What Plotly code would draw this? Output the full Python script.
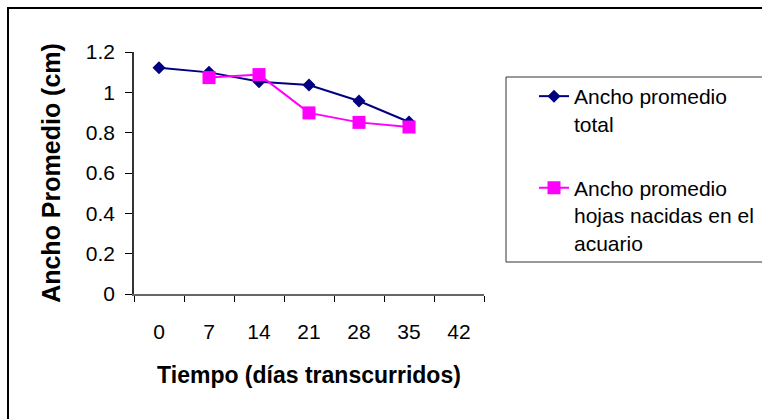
import plotly.graph_objects as go

# Sampling days (category axis) and mean leaf width per series
dias = ["0", "7", "14", "21", "28", "35", "42"]

dias_total = ["0", "7", "14", "21", "28", "35"]
ancho_total = [1.122, 1.099, 1.053, 1.036, 0.957, 0.853]

dias_acuario = ["7", "14", "21", "28", "35"]
ancho_acuario = [1.073, 1.088, 0.898, 0.851, 0.828]

y_ticks = [0, 0.2, 0.4, 0.6, 0.8, 1, 1.2]
y_ticktext = ["0", "0.2", "0.4", "0.6", "0.8", "1", "1.2"]

FONT = "Arial, 'Liberation Sans', sans-serif"
W, H = 762, 419
L, R, T, B = 134, 484, 52, 294  # plot area in pixels


def px(x):
    """Pixel column -> paper (plot-area) fraction."""
    return (x - L) / (R - L)


def py(y):
    """Pixel row -> paper (plot-area) fraction."""
    return (B - y) / (B - T)


fig = go.Figure()

fig.add_trace(go.Scatter(
    x=dias_total, y=ancho_total,
    mode="lines+markers",
    name="Ancho promedio<br>total",
    legendgroup="a",
    line=dict(color="#000080", width=2),
    marker=dict(symbol="diamond", size=10, color="#000080"),
))

fig.add_trace(go.Scatter(
    x=dias_acuario, y=ancho_acuario,
    mode="lines+markers",
    name="Ancho promedio<br>hojas nacidas en el<br>acuario",
    legendgroup="b",
    line=dict(color="#FF00FF", width=2),
    marker=dict(symbol="square", size=13, color="#FF00FF"),
))

# Outer chart frame and legend frame
fig.add_shape(type="rect", xref="paper", yref="paper",
              x0=px(8), x1=px(780), y0=py(440), y1=py(8),
              line=dict(color="black", width=2), layer="below")
fig.add_shape(type="rect", xref="paper", yref="paper",
              x0=px(506), x1=px(780), y0=py(262), y1=py(77),
              line=dict(color="#333333", width=1), layer="below")

fig.update_layout(
    width=W, height=H,
    margin=dict(l=L, r=W - R, t=T, b=H - B, autoexpand=False),
    paper_bgcolor="white", plot_bgcolor="white",
    font=dict(family=FONT, color="black", size=21),
    showlegend=True,
    legend=dict(
        x=px(534), xanchor="left", y=py(76), yanchor="top",
        bgcolor="rgba(0,0,0,0)", borderwidth=0,
        font=dict(family=FONT, size=21, color="black"),
        valign="top", tracegroupgap=34,
    ),
    xaxis=dict(
        type="category",
        categoryorder="array", categoryarray=dias,
        range=[-0.5, 6.5],
        tickson="boundaries",
        ticks="outside", ticklen=6, tickcolor="black", tickwidth=1,
        showline=True, linecolor="#666666", linewidth=1.5,
        showgrid=False, zeroline=False,
        ticklabelstandoff=18,
        tickfont=dict(size=21),
        title=dict(text="<b>Tiempo (días transcurridos)</b>",
                   font=dict(size=23), standoff=25),
    ),
    yaxis=dict(
        range=[0, 1.2],
        tickvals=y_ticks, ticktext=y_ticktext,
        ticks="outside", ticklen=7, tickcolor="black", tickwidth=1,
        showline=True, linecolor="#333333", linewidth=1.5,
        showgrid=False, zeroline=False,
        ticklabelstandoff=6,
        tickfont=dict(size=21),
        title=dict(text="<b>Ancho Promedio (cm)</b>",
                   font=dict(size=25), standoff=18),
    ),
)

fig.write_html("out.html")
